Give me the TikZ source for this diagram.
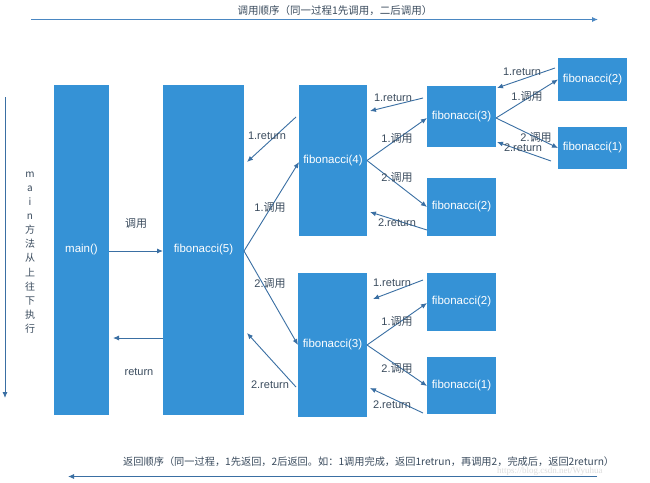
\documentclass[tikz,border=0pt]{standalone}
\usepackage{fontspec}
\setmainfont{Liberation Sans}
\newfontfamily\cjk{Noto Sans CJK SC}
\newfontfamily\wmfont{Liberation Serif}
\usetikzlibrary{arrows.meta,calc}
\definecolor{boxblue}{HTML}{3592D6}
\definecolor{arrowblue}{HTML}{3A6FA3}
\definecolor{toparrow}{HTML}{4A87C2}
\definecolor{labelc}{HTML}{3B4C5E}
\newcommand\zhs[1]{{\cjk #1}}
\begin{document}
\begin{tikzpicture}[x=1pt,y=-1pt,
  fbox/.style={fill=boxblue,draw=none,inner sep=0pt,outer sep=0pt,text=white,font=\fontsize{11.5}{13}\selectfont},
  conn/.style={draw=arrowblue,line width=0.9pt,-{Latex[length=6pt,width=5pt]}},
  lbl/.style={text=labelc,font=\fontsize{11}{13}\selectfont,inner sep=0pt}]
\useasboundingbox (0,0) rectangle (650,482);
\fill[white] (0,0) rectangle (650,482);

% boxes
\node[fbox,minimum width=55pt,minimum height=330pt] (main) at (81.5,250) {main()};
\node[fbox,minimum width=81pt,minimum height=330pt] (f5) at (203.5,250) {fibonacci(5)};
\node[fbox,minimum width=68pt,minimum height=151pt] (f4) at (333,160.5) {fibonacci(4)};
\node[fbox,minimum width=69pt,minimum height=144pt] (f3a) at (332.5,345) {fibonacci(3)};
\node[fbox,minimum width=69pt,minimum height=61pt] (f3b) at (461.5,116.5) {fibonacci(3)};
\node[fbox,minimum width=69pt,minimum height=43pt] (f2a) at (592.5,79.5) {fibonacci(2)};
\node[fbox,minimum width=69pt,minimum height=42pt] (f1a) at (592.5,148) {fibonacci(1)};
\node[fbox,minimum width=69pt,minimum height=58pt] (f2b) at (461.5,207) {fibonacci(2)};
\node[fbox,minimum width=69pt,minimum height=58pt] (f2c) at (461.5,302) {fibonacci(2)};
\node[fbox,minimum width=69pt,minimum height=57pt] (f1b) at (461.5,385.5) {fibonacci(1)};

% main <-> f5
\draw[conn] ([shift={(0,1)}]main.east) -- ([shift={(0,1)}]f5.west);
\draw[conn] ([shift={(0,88)}]f5.west) -- ([shift={(4,88)}]main.east);
\node[lbl] (lcall) at (136,223) {\zhs{调用}};
\node[lbl] (lret) at (139,372) {return};

% f5 <-> f4, f3a
\draw[conn] ([shift={(0,1)}]f5.east) -- ([shift={(0,1.5)}]f4.west);
\draw[conn] ([shift={(-3,32)}]f4.north west) -- ([shift={(3,77)}]f5.north east);
\draw[conn] ([shift={(0,1)}]f5.east) -- (f3a.west);
\draw[conn] ([shift={(-2,42)}]f3a.west) -- ([shift={(3,83)}]f5.east);
\node[lbl] (l1) at (267,136) {1.return};
\node[lbl] (l2) at (270,207) {1.\zhs{调用}};
\node[lbl] (l3) at (270,283) {2.\zhs{调用}};
\node[lbl] (l4) at (270,385) {2.return};

% f4 <-> f3b, f2b
\draw[conn] (f4.east) -- ([shift={(0,1.5)}]f3b.west);
\draw[conn] ([shift={(-4,-18.5)}]f3b.west) -- ([shift={(3,-49.5)}]f4.east);
\draw[conn] (f4.east) -- (f2b.west);
\draw[conn] ([shift={(0,23)}]f2b.west) -- ([shift={(3,51.5)}]f4.east);
\node[lbl] (l5) at (393,98) {1.return};
\node[lbl] (l6) at (397,138) {1.\zhs{调用}};
\node[lbl] (l7) at (397,177) {2.\zhs{调用}};
\node[lbl] (l8) at (397,223) {2.return};

% f3b <-> f2a, f1a
\draw[conn] ([shift={(0,1.5)}]f3b.east) -- (f2a.west);
\draw[conn] ([shift={(-3,-11.5)}]f2a.west) -- ([shift={(1,-28.5)}]f3b.east);
\draw[conn] ([shift={(0,1.5)}]f3b.east) -- (f1a.west);
\draw[conn] ([shift={(-7,13)}]f1a.west) -- ([shift={(1,25.5)}]f3b.east);
\node[lbl] (l9) at (522,72) {1.return};
\node[lbl] (l10) at (527,96) {1.\zhs{调用}};
\node[lbl] (l11) at (536,137) {2.\zhs{调用}};
\node[lbl] (l12) at (523,148) {2.return};

% f3a <-> f2c, f1b
\draw[conn] (f3a.east) -- ([shift={(0,1)}]f2c.west);
\draw[conn] ([shift={(-4,-22)}]f2c.west) -- ([shift={(6,-46)}]f3a.east);
\draw[conn] (f3a.east) -- ([shift={(0,0.5)}]f1b.west);
\draw[conn] ([shift={(-4,27.5)}]f1b.west) -- ([shift={(3,43)}]f3a.east);
\node[lbl] (l13) at (392,283) {1.return};
\node[lbl] (l14) at (397,321) {1.\zhs{调用}};
\node[lbl] (l15) at (397,368) {2.\zhs{调用}};
\node[lbl] (l16) at (392,405) {2.return};

% top call-order arrow
\coordinate (ts) at (31,19.5);
\coordinate (te) at (598,19.5);
\draw[draw=toparrow,line width=0.9pt,-{Latex[length=6pt,width=5pt]}] (ts) -- (te);
\node[text=labelc,font=\cjk\fontsize{10.5}{12}\selectfont,inner sep=0pt] (ttxt) at (335,11) {调用顺序（同一过程1先调用，二后调用）};

% bottom return-order arrow
\coordinate (bs) at (597,476.5);
\coordinate (be) at (68,476.5);
\draw[conn] (bs) -- (be);
\node[text=labelc,font=\cjk\fontsize{10.2}{12}\selectfont,inner sep=0pt,anchor=west] (btxt) at (123,461.5) {返回顺序（同一过程，1先返回，2后返回。如：1调用完成，返回1retrun，再调用2，完成后，返回2return）};

% left vertical arrow and text
\coordinate (vs) at (5,97);
\coordinate (ve) at (5,398);
\draw[conn] (vs) -- (ve);
\node[text=labelc,font=\cjk\fontsize{10}{14.1}\selectfont,inner sep=0pt,align=center] (vtxt) at (30,252.5) {m\\a\\i\\n\\方\\法\\从\\上\\往\\下\\执\\行};

% watermark
\node[text=black!13,font=\wmfont\fontsize{9}{10}\selectfont,inner sep=0pt,anchor=west] (wm) at (497,471) {https://blog.csdn.net/Wyuhua};
\end{tikzpicture}
\end{document}
